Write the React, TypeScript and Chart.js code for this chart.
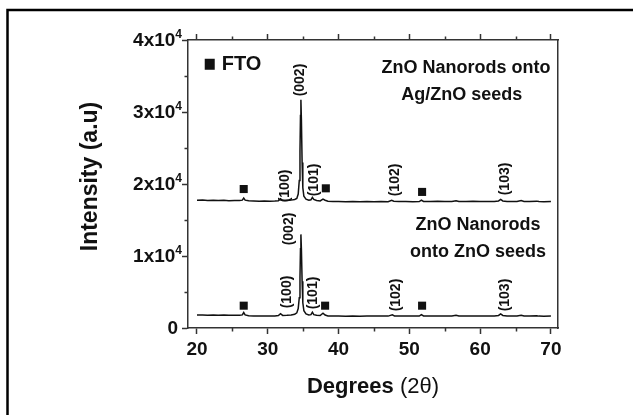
import React, { useEffect, useRef } from 'react';
import { Chart, registerables } from 'chart.js';

Chart.register(...registerables);

const FONT = '"Liberation Sans", Arial, Helvetica, sans-serif';

// Axis ranges and ticks
const xRange = [18.73, 71.0];
const yRange = [0, 40000];
const xTickValues = [20, 30, 40, 50, 60, 70];
const xMinorTickValues = [25, 35, 45, 55, 65];
const yTickValues = [0, 10000, 20000, 30000, 40000];
const yTickLabels = ['0', '1x10^4', '2x10^4', '3x10^4', '4x10^4'];
const yMinorTickValues = [5000, 15000, 25000, 35000];

const xAxisTitle = 'Degrees';
const xAxisTitleSymbol = ' (2θ)';
const yAxisTitle = 'Intensity (a.u)';

// XRD pattern: ZnO nanorods onto Ag/ZnO seeds (offset upper curve)
const agZnoSeedsPattern: [number, number][] = [
  [20, 17750], [20.8, 17780], [21.5, 17720], [22.3, 17760], [23, 17700], [23.8, 17740],
  [24.5, 17690], [25.3, 17720], [26, 17700], [26.4, 17760], [26.6, 18050], [26.8, 17760],
  [27.3, 17680], [28, 17650], [28.8, 17620], [29.5, 17650], [30.3, 17610], [31, 17640],
  [31.5, 17680], [31.8, 17950], [32.1, 17700], [32.7, 17720], [33.3, 17760], [33.8, 17850],
  [34.1, 18000], [34.3, 18600], [34.45, 20500], [34.55, 24500], [34.62, 29500], [34.68, 31700],
  [34.75, 29000], [34.85, 23000], [34.95, 19500], [35.1, 18300], [35.4, 17900], [35.8, 17750],
  [36.1, 17800], [36.3, 18150], [36.5, 17850], [36.9, 17700], [37.4, 17650], [37.8, 17900],
  [38.1, 17750], [38.5, 17600], [39.2, 17560], [40, 17580], [41, 17540], [42, 17570],
  [43, 17530], [44, 17560], [45, 17540], [46, 17570], [47, 17550], [47.5, 17720],
  [47.8, 17600], [48.5, 17560], [49.5, 17580], [50.5, 17550], [51.4, 17560], [51.7, 17760],
  [52, 17580], [53, 17560], [54, 17590], [55, 17560], [56, 17580], [56.6, 17680],
  [57, 17580], [58, 17560], [59, 17590], [60, 17560], [61, 17580], [62, 17570],
  [62.6, 17650], [62.9, 17850], [63.2, 17650], [63.8, 17580], [64.5, 17560], [65.2, 17580],
  [65.8, 17700], [66.2, 17580], [67, 17560], [68, 17620], [68.3, 17560], [69, 17550], [70, 17560],
];

// XRD pattern: ZnO nanorods onto ZnO seeds (lower curve)
const znoSeedsPattern: [number, number][] = [
  [20, 1800], [20.8, 1820], [21.5, 1780], [22.3, 1800], [23, 1770], [23.8, 1790],
  [24.5, 1760], [25.3, 1770], [26, 1760], [26.4, 1820], [26.6, 2150], [26.8, 1820],
  [27.3, 1700], [28, 1660], [28.8, 1650], [29.5, 1670], [30.3, 1650], [31, 1680],
  [31.5, 1720], [31.8, 1980], [32.1, 1750], [32.7, 1760], [33.3, 1800], [33.8, 1900],
  [34.1, 2100], [34.3, 2700], [34.45, 4200], [34.55, 7000], [34.62, 11000], [34.68, 13000],
  [34.75, 11000], [34.85, 6500], [34.95, 3500], [35.1, 2400], [35.4, 1950], [35.8, 1800],
  [36.1, 1850], [36.3, 2200], [36.5, 1850], [36.9, 1760], [37.4, 1740], [37.8, 2050],
  [38.1, 1800], [38.5, 1680], [39.2, 1650], [40, 1670], [41, 1640], [42, 1660],
  [43, 1640], [44, 1660], [45, 1650], [46, 1670], [47, 1650], [47.6, 1820],
  [47.9, 1680], [48.5, 1650], [49.5, 1670], [50.5, 1650], [51.4, 1660], [51.7, 1860],
  [52, 1680], [53, 1660], [54, 1680], [55, 1650], [56, 1670], [56.6, 1760],
  [57, 1670], [58, 1650], [59, 1680], [60, 1650], [61, 1670], [62, 1660],
  [62.6, 1740], [62.9, 1950], [63.2, 1740], [63.8, 1670], [64.5, 1650], [65.2, 1670],
  [65.8, 1780], [66.2, 1670], [67, 1650], [68, 1700], [68.3, 1650], [69, 1640], [70, 1650],
];

// FTO substrate reflections (square markers)
const ftoMarkers: [number, number][] = [
  [26.6, 19300], [38.2, 19400], [51.8, 18900],
  [26.6, 3100], [38.1, 3100], [51.8, 3100],
];

// Miller-index labels (rotated), at data positions
const peakLabelText = ['(002)', '(100)', '(101)', '(102)', '(103)', '(002)', '(100)', '(101)', '(102)', '(103)'];
const peakLabelX = [34.55, 32.43, 36.5, 47.97, 63.5, 33.0, 32.7, 36.4, 48.1, 63.6];
const peakLabelY = [34440, 19720, 20560, 20560, 20700, 13750, 5000, 4860, 4580, 4580];

// Sample name annotations
const sampleText = ['ZnO Nanorods onto', 'Ag/ZnO seeds', 'ZnO Nanorods', 'onto ZnO seeds'];
const sampleX = [58.0, 57.4, 59.7, 59.7];
const sampleY = [36100, 32360, 14300, 10560];

const legendLabel = 'FTO';
const legendX = 21.8;
const legendY = 36700;

const INK = '#111111';
const AXIS = '#333333';

const overlayPlugin = {
  id: 'overlay',
  afterDraw(chart: any) {
    const ctx = chart.ctx as CanvasRenderingContext2D;
    const xs = chart.scales.x;
    const ys = chart.scales.y;
    const area = chart.chartArea;
    ctx.save();

    // outer figure frame (top and left edges)
    ctx.strokeStyle = '#000';
    ctx.lineWidth = 2.5;
    ctx.beginPath();
    ctx.moveTo(7.5, 415);
    ctx.lineTo(7.5, 10);
    ctx.lineTo(633, 10);
    ctx.stroke();

    // minor ticks
    ctx.strokeStyle = AXIS;
    ctx.lineWidth = 1.5;
    ctx.beginPath();
    for (const v of xMinorTickValues) {
      const px = Math.round(xs.getPixelForValue(v)) + 0.5;
      ctx.moveTo(px, area.bottom);
      ctx.lineTo(px, area.bottom + 3.5);
      ctx.moveTo(px, area.top);
      ctx.lineTo(px, area.top - 3.5);
    }
    for (const v of yMinorTickValues) {
      const py = Math.round(ys.getPixelForValue(v)) + 0.5;
      ctx.moveTo(area.left, py);
      ctx.lineTo(area.left - 3.5, py);
    }
    ctx.stroke();

    // y tick labels with superscript
    ctx.fillStyle = INK;
    ctx.textBaseline = 'middle';
    yTickValues.forEach((v, i) => {
      const py = ys.getPixelForValue(v) + 1;
      const [base, exp] = yTickLabels[i].split('^');
      if (exp) {
        ctx.font = `bold 12px ${FONT}`;
        const ew = ctx.measureText(exp).width;
        const right = area.left - 6;
        ctx.textAlign = 'right';
        ctx.fillText(exp, right, py - 6);
        ctx.font = `bold 19px ${FONT}`;
        ctx.fillText(base, right - ew, py);
      } else {
        ctx.font = `bold 19px ${FONT}`;
        ctx.textAlign = 'right';
        ctx.fillText(base, area.left - 10, py);
      }
    });

    // axis titles
    ctx.font = `bold 23px ${FONT}`;
    ctx.save();
    ctx.translate(91, (area.top + area.bottom) / 2 - 7.5);
    ctx.rotate(-Math.PI / 2);
    ctx.textAlign = 'center';
    ctx.textBaseline = 'middle';
    ctx.fillText(yAxisTitle, 0, 0);
    ctx.restore();

    ctx.font = `bold 22px ${FONT}`;
    const w1 = ctx.measureText(xAxisTitle).width;
    ctx.font = `22px ${FONT}`;
    const w2 = ctx.measureText(xAxisTitleSymbol).width;
    const cx = (area.left + area.right) / 2;
    const startX = cx - (w1 + w2) / 2;
    ctx.textAlign = 'left';
    ctx.textBaseline = 'middle';
    ctx.font = `bold 22px ${FONT}`;
    ctx.fillText(xAxisTitle, startX, 387);
    ctx.font = `22px ${FONT}`;
    ctx.fillText(xAxisTitleSymbol, startX + w1, 387);

    // rotated peak labels
    ctx.font = `bold 14px ${FONT}`;
    peakLabelText.forEach((t, i) => {
      ctx.save();
      ctx.translate(xs.getPixelForValue(peakLabelX[i]), ys.getPixelForValue(peakLabelY[i]));
      ctx.rotate(-Math.PI / 2);
      ctx.textAlign = 'center';
      ctx.textBaseline = 'middle';
      ctx.fillText(t, 0, 0);
      ctx.restore();
    });

    // sample annotations
    ctx.font = `bold 18px ${FONT}`;
    ctx.textAlign = 'center';
    ctx.textBaseline = 'middle';
    sampleText.forEach((t, i) => {
      ctx.fillText(t, xs.getPixelForValue(sampleX[i]), ys.getPixelForValue(sampleY[i]));
    });

    // legend: square + FTO
    const lx = xs.getPixelForValue(legendX);
    const ly = ys.getPixelForValue(legendY);
    ctx.fillRect(lx - 5, ly - 5, 10, 11);
    ctx.font = `bold 20px ${FONT}`;
    ctx.textAlign = 'left';
    ctx.fillText(legendLabel, lx + 12, ly + 1);

    ctx.restore();
  },
};

export default function App() {
  const canvasRef = useRef<HTMLCanvasElement | null>(null);

  useEffect(() => {
    document.body.style.margin = '0';
    const canvas = canvasRef.current;
    if (!canvas) return;

    const lineStyle = {
      showLine: true,
      borderColor: '#111',
      borderWidth: 1.5,
      pointRadius: 0,
      tension: 0,
    };

    const makeTicks = (vals: number[]) => (s: any) => {
      s.ticks = vals.map((v) => ({ value: v }));
    };

    const gridCfg = {
      drawOnChartArea: false,
      drawTicks: true,
      tickLength: 6,
      tickWidth: 1.5,
      tickColor: AXIS,
    };
    const borderCfg = { display: true, color: AXIS, width: 1.5 };

    const chart = new Chart(canvas, {
      type: 'scatter',
      data: {
        datasets: [
          { ...lineStyle, label: 'Ag/ZnO seeds', data: agZnoSeedsPattern.map(([x, y]) => ({ x, y })) },
          { ...lineStyle, label: 'ZnO seeds', data: znoSeedsPattern.map(([x, y]) => ({ x, y })) },
          {
            label: 'FTO',
            data: ftoMarkers.map(([x, y]) => ({ x, y })),
            pointStyle: 'rect',
            pointRadius: 5.7,
            backgroundColor: '#111',
            borderWidth: 0,
            showLine: false,
          },
        ],
      },
      options: {
        animation: false,
        responsive: false,
        devicePixelRatio: 1,
        layout: { padding: 0 },
        plugins: { legend: { display: false }, tooltip: { enabled: false } },
        scales: {
          x: {
            type: 'linear',
            position: 'bottom',
            min: xRange[0],
            max: xRange[1],
            afterBuildTicks: makeTicks(xTickValues),
            grid: gridCfg,
            border: borderCfg,
            ticks: {
              font: { family: FONT, size: 19, weight: 'bold' },
              color: INK,
              padding: 4,
              maxRotation: 0,
              autoSkip: false,
            },
            afterFit: (s: any) => { s.height = 415 - 328; },
          },
          x2: {
            type: 'linear',
            position: 'top',
            min: xRange[0],
            max: xRange[1],
            afterBuildTicks: makeTicks(xTickValues),
            grid: gridCfg,
            border: borderCfg,
            ticks: { display: false },
            afterFit: (s: any) => { s.height = 40; },
          },
          y: {
            type: 'linear',
            position: 'left',
            min: yRange[0],
            max: yRange[1],
            afterBuildTicks: makeTicks(yTickValues),
            grid: gridCfg,
            border: borderCfg,
            ticks: { display: false },
            afterFit: (s: any) => { s.width = 188; },
          },
          y2: {
            type: 'linear',
            position: 'right',
            min: yRange[0],
            max: yRange[1],
            grid: { drawOnChartArea: false, drawTicks: false },
            border: borderCfg,
            ticks: { display: false },
            afterFit: (s: any) => { s.width = 633 - 558; },
          },
        },
      },
      plugins: [overlayPlugin],
    } as any);

    return () => chart.destroy();
  }, []);

  return (
    <div style={{ position: 'fixed', left: 0, top: 0, width: 633, height: 415, background: '#fff' }}>
      <canvas ref={canvasRef} width={633} height={415} style={{ display: 'block' }} />
    </div>
  );
}
